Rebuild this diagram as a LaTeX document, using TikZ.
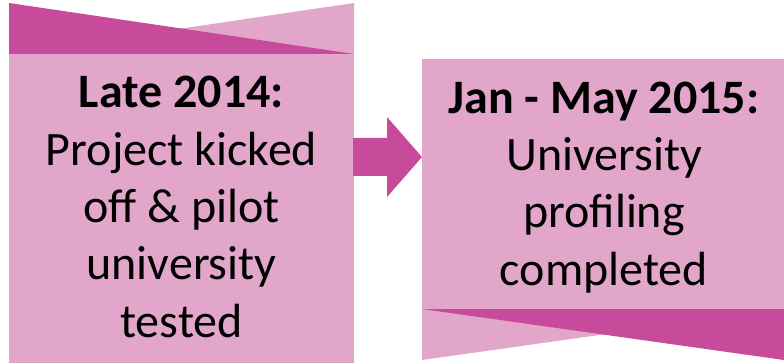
\documentclass[tikz,border=0pt]{standalone}
\usepackage{fontspec}
\setmainfont{Carlito}
\definecolor{darkpink}{RGB}{200,75,155}
\definecolor{lightpink}{RGB}{227,166,203}
\tikzset{
	boxtext/.style={anchor=base, align=center, inner sep=0pt, font=\fontsize{48}{57.3}\selectfont},
}

\begin{document}
\begin{tikzpicture}[x=1pt, y=-1pt]
		\useasboundingbox (0,0) rectangle (784,363);
		
		% Coordinates
		\coordinate (A) at (9,54);
		\coordinate (A') at (354,363);
		\coordinate (a) at (9,3);
		\coordinate (a') at (354,3);
		\coordinate (aa) at (354,54);
		\coordinate (B) at (422,59);
		\coordinate (B') at (784,309);
		\coordinate (b) at (422,309);
		\coordinate (b') at (422,360);
		\coordinate (bb) at (784,360);
		
		% Boxes
		\fill[lightpink] (A) rectangle (A');
		\fill[lightpink] (B) rectangle (B');
		
		% Banners
		\fill[lightpink] (A) -- (a') -- (aa) -- cycle;
		\fill[darkpink] (a) -- (aa) -- (A) -- cycle;
		\fill[lightpink] (b) -- (b') -- (B' |- b) -- cycle;
		\fill[darkpink] (b) -- (B' |- b) -- (bb) -- cycle;
		
		% Arrow
		\fill[darkpink] (353,138) -- (387,138) -- (387,117) -- (B |- 0,157)
			-- (387,197) -- (387,176) -- (353,176) -- cycle;
		
		% Nodes (base = last line)
		\node[boxtext] (late) at (181.5,337) {\textbf{Late 2014:}\\Project kicked\\off \& pilot\\university\\tested};
		\node[boxtext] (jan) at (604,285) {\textbf{Jan - May 2015:}\\University\\profiling\\completed};
	\end{tikzpicture}
\end{document}
